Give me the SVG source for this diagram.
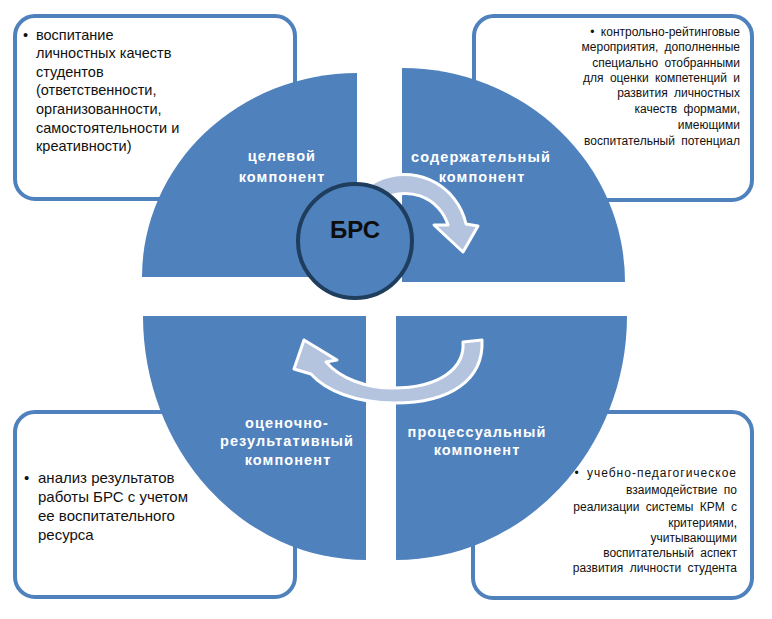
<svg xmlns="http://www.w3.org/2000/svg" width="772" height="619" viewBox="0 0 772 619">
<style>
.box{fill:#fff;stroke:#4f81bd;stroke-width:4}
.wedge{fill:#4f81bd}
.lbl{font-family:"Liberation Sans",Arial,sans-serif;font-weight:bold;font-size:14.5px;fill:#fff;text-anchor:middle;letter-spacing:1.1px}
.t{font-family:"Liberation Sans",Arial,sans-serif;fill:#111}
.tl{font-size:14.5px}
.tr{font-size:12px;text-anchor:end;word-spacing:3px}
.bl{font-size:15px}
.br{font-size:12px;text-anchor:end;word-spacing:3px}
.arr{fill:#b4c4de;stroke:#fff;stroke-width:3;stroke-linejoin:round}
</style>
<rect width="772" height="619" fill="#fff"/>
<g id="box-tl"><rect class="box" x="15" y="16" width="280" height="183" rx="20"/>
<text class="t tl" x="23" y="39.5">•</text>
<text class="t tl"><tspan x="36" y="39.5">воспитание</tspan><tspan x="36" y="58.1">личностных качеств</tspan><tspan x="36" y="76.7">студентов</tspan><tspan x="36" y="95.3">(ответственности,</tspan><tspan x="36" y="113.9">организованности,</tspan><tspan x="36" y="132.5">самостоятельности и</tspan><tspan x="36" y="151.1">креативности)</tspan></text></g>
<g id="box-tr"><rect class="box" x="474" y="16" width="278" height="184" rx="20"/>
<text class="t tr"><tspan x="740" y="36">•  контрольно-рейтинговые</tspan><tspan x="740" y="51">мероприятия, дополненные</tspan><tspan x="740" y="67">специально отобранными</tspan><tspan x="740" y="82">для оценки компетенций и</tspan><tspan x="740" y="97">развития личностных</tspan><tspan x="740" y="113">качеств формами,</tspan><tspan x="740" y="129">имеющими</tspan><tspan x="740" y="145">воспитательный потенциал</tspan></text></g>
<g id="box-bl"><rect class="box" x="15" y="412" width="280" height="185" rx="20"/>
<text class="t bl" x="24" y="483">•</text>
<text class="t bl"><tspan x="38" y="483">анализ результатов</tspan><tspan x="38" y="502">работы БРС с учетом</tspan><tspan x="38" y="521">ее воспитательного</tspan><tspan x="38" y="540">ресурса</tspan></text></g>
<g id="box-br"><rect class="box" x="473" y="412" width="279" height="186" rx="20"/>
<text class="t br"><tspan x="737" y="477" letter-spacing="1">•  учебно-педагогическое</tspan><tspan x="737" y="494">взаимодействие по</tspan><tspan x="737" y="511">реализации системы КРМ с</tspan><tspan x="737" y="527">критериями,</tspan><tspan x="737" y="542">учитывающими</tspan><tspan x="737" y="557">воспитательный аспект</tspan><tspan x="737" y="572">развития личности студента</tspan></text></g>
<g id="wedge-tl"><path class="wedge" d="M357,277 L357,73 A215,204 0 0 0 142,277 Z"/>
<text class="lbl"><tspan x="282" y="161">целевой</tspan><tspan x="282" y="182">компонент</tspan></text></g>
<g id="wedge-tr"><path class="wedge" d="M402,282 L402,68 A223,214 0 0 1 625,282 Z"/>
<text class="lbl"><tspan x="481" y="162">содержательный</tspan><tspan x="482" y="182">компонент</tspan></text></g>
<g id="wedge-bl"><path class="wedge" d="M366,316 L143,316 A223,244 0 0 0 366,560 Z"/>
<text class="lbl"><tspan x="287" y="428">оценочно-</tspan><tspan x="287" y="446">результативный</tspan><tspan x="288" y="465">компонент</tspan></text></g>
<g id="wedge-br"><path class="wedge" d="M396,316 L627,316 A231,244 0 0 1 396,560 Z"/>
<text class="lbl"><tspan x="477" y="437">процессуальный</tspan><tspan x="477" y="455">компонент</tspan></text></g>
<g id="connectors">
<path class="arr" d="M371,184 A63,63 0 0 1 466,224 L478,226 L463,252 L434,225 L448,225 A45,45 0 0 0 380,201 Z"/>
<path class="arr" d="M463,342 L482,340 C484,380 450,403 395,403 C355,403 325,390 311,374 L294,369 L304,340 L337,360 L326,362 C340,378 365,388 393,388 C440,388 465,368 463,342 Z"/>
</g>
<g id="center-brs"><circle cx="355" cy="241" r="57" fill="#4f81bd" stroke="#1f3d5c" stroke-width="4"/>
<text x="355" y="237.5" font-family="'Liberation Sans',Arial,sans-serif" font-weight="bold" font-size="24" fill="#0d0d0d" text-anchor="middle">БРС</text></g>
</svg>
